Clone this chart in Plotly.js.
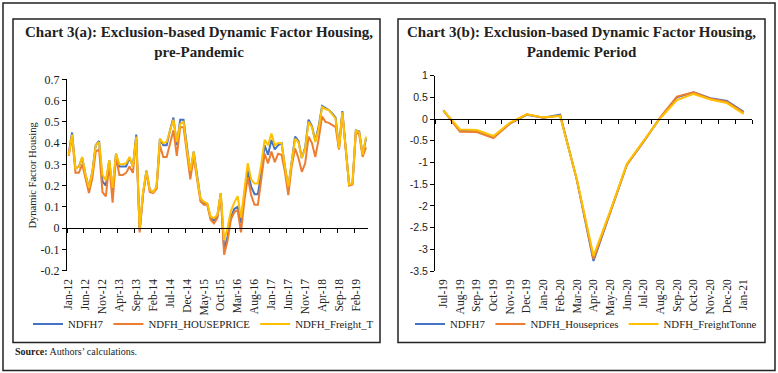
<!DOCTYPE html>
<html>
<head>
<meta charset="utf-8">
<script src="https://cdn.plot.ly/plotly-3.0.1.min.js"></script>
<style>html,body{margin:0;padding:0;background:#fff;}#chart{width:778px;height:373px;}</style>
</head>
<body>
<div id="chart"></div>
<script>
// ---------- DATA ----------
const monthsA = [
 'Jan-12','Feb-12','Mar-12','Apr-12','May-12','Jun-12','Jul-12','Aug-12','Sep-12','Oct-12','Nov-12','Dec-12',
 'Jan-13','Feb-13','Mar-13','Apr-13','May-13','Jun-13','Jul-13','Aug-13','Sep-13','Oct-13','Nov-13','Dec-13',
 'Jan-14','Feb-14','Mar-14','Apr-14','May-14','Jun-14','Jul-14','Aug-14','Sep-14','Oct-14','Nov-14','Dec-14',
 'Jan-15','Feb-15','Mar-15','Apr-15','May-15','Jun-15','Jul-15','Aug-15','Sep-15','Oct-15','Nov-15','Dec-15',
 'Jan-16','Feb-16','Mar-16','Apr-16','May-16','Jun-16','Jul-16','Aug-16','Sep-16','Oct-16','Nov-16','Dec-16',
 'Jan-17','Feb-17','Mar-17','Apr-17','May-17','Jun-17','Jul-17','Aug-17','Sep-17','Oct-17','Nov-17','Dec-17',
 'Jan-18','Feb-18','Mar-18','Apr-18','May-18','Jun-18','Jul-18','Aug-18','Sep-18','Oct-18','Nov-18','Dec-18',
 'Jan-19','Feb-19','Mar-19','Apr-19','May-19'
];
const tickLabelsA = ['Jan-12','Jun-12','Nov-12','Apr-13','Sep-13','Feb-14','Jul-14','Dec-14','May-15','Oct-15',
 'Mar-16','Aug-16','Jan-17','Jun-17','Nov-17','Apr-18','Sep-18','Feb-19'];

const ndfh7A = [
 0.35,0.45,0.28,0.29,0.33,0.25,0.19,0.265,0.39,0.41,
 0.22,0.20,0.32,0.18,0.35,0.29,0.29,0.29,0.33,0.29,
 0.44,-0.01,0.16,0.27,0.18,0.17,0.19,0.42,0.39,0.39,
 0.46,0.52,0.39,0.51,0.51,0.37,0.26,0.36,0.24,0.14,
 0.12,0.115,0.05,0.035,0.055,0.165,-0.10,-0.04,0.05,0.09,
 0.10,0.025,0.16,0.27,0.195,0.16,0.16,0.26,0.39,0.345,
 0.415,0.37,0.39,0.40,0.29,0.19,0.31,0.43,0.41,0.33,
 0.38,0.51,0.48,0.41,0.48,0.575,0.565,0.555,0.54,0.52,
 0.375,0.55,0.375,0.205,0.21,0.46,0.455,0.345,0.42
];
const housePriceA = [
 0.34,0.43,0.26,0.26,0.30,0.23,0.165,0.235,0.36,0.37,
 0.17,0.15,0.30,0.12,0.335,0.25,0.25,0.26,0.29,0.26,
 0.42,-0.02,0.16,0.26,0.17,0.165,0.185,0.39,0.335,0.335,
 0.405,0.46,0.34,0.475,0.475,0.34,0.23,0.335,0.22,0.125,
 0.11,0.11,0.04,0.023,0.047,0.16,-0.125,-0.06,0.04,0.075,
 0.085,-0.02,0.13,0.24,0.155,0.11,0.11,0.22,0.35,0.305,
 0.36,0.31,0.35,0.345,0.265,0.155,0.29,0.375,0.33,0.265,
 0.305,0.43,0.40,0.335,0.42,0.525,0.50,0.495,0.485,0.475,
 0.37,0.54,0.37,0.20,0.205,0.455,0.44,0.335,0.38
];
const freightA = [
 0.345,0.44,0.28,0.29,0.335,0.25,0.19,0.265,0.39,0.405,
 0.25,0.225,0.32,0.19,0.35,0.30,0.30,0.305,0.335,0.29,
 0.43,0.0,0.17,0.27,0.18,0.17,0.195,0.42,0.40,0.405,
 0.46,0.51,0.405,0.49,0.50,0.37,0.27,0.36,0.24,0.14,
 0.125,0.117,0.055,0.047,0.063,0.165,-0.055,0.0,0.08,0.12,
 0.15,0.05,0.18,0.305,0.23,0.21,0.21,0.30,0.415,0.39,
 0.445,0.39,0.40,0.40,0.29,0.195,0.31,0.42,0.405,0.33,
 0.375,0.50,0.475,0.405,0.47,0.57,0.56,0.555,0.535,0.515,
 0.375,0.545,0.375,0.205,0.21,0.46,0.45,0.345,0.43
];

const monthsB = ['Jul-19','Aug-19','Sep-19','Oct-19','Nov-19','Dec-19','Jan-20','Feb-20','Mar-20','Apr-20',
 'May-20','Jun-20','Jul-20','Aug-20','Sep-20','Oct-20','Nov-20','Dec-20','Jan-21'];
const ndfh7B = [0.2,-0.27,-0.28,-0.42,-0.1,0.1,0.03,0.1,-1.4,-3.27,-2.15,-1.05,-0.52,0.03,0.5,0.62,0.48,0.42,0.17];
const housePricesB = [0.2,-0.29,-0.3,-0.44,-0.1,0.11,0.03,0.08,-1.4,-3.22,-2.15,-1.05,-0.52,0.04,0.52,0.62,0.47,0.4,0.15];
const freightTonneB = [0.2,-0.24,-0.25,-0.39,-0.08,0.11,0.04,0.07,-1.38,-3.15,-2.12,-1.03,-0.5,0.02,0.44,0.58,0.45,0.37,0.12];

const yTicksA = [-0.2,-0.1,0,0.1,0.2,0.3,0.4,0.5,0.6,0.7];
const yTickTextA = ['-0.2','-0.1','0','0.1','0.2','0.3','0.4','0.5','0.6','0.7'];
const yTicksB = [-3.5,-3,-2.5,-2,-1.5,-1,-0.5,0,0.5,1];
const yTickTextB = ['-3.5','-3','-2.5','-2','-1.5','-1','-0.5','0','0.5','1'];

// ---------- LAYOUT HELPERS ----------
const W = 778, H = 373;
const px = x => x / W;
const py = y => 1 - y / H;
const BLUE = '#4472C4', ORANGE = '#ED7D31', YELLOW = '#FFC000';
const SERIF = 'Liberation Serif, Times New Roman, serif';
const SANS = 'Liberation Sans, Arial, sans-serif';

const xdA = [px(67), px(367.7)], ydA = [py(270.7), py(79.3)];
const xdB = [px(435), px(752)], ydB = [py(271), py(75.7)];
const yRangeA = [-0.2, 0.7], yRangeB = [-3.5, 1];
const zeroA = ydA[0] + (0 - yRangeA[0]) / (yRangeA[1] - yRangeA[0]) * (ydA[1] - ydA[0]);
const zeroB = ydB[0] + (0 - yRangeB[0]) / (yRangeB[1] - yRangeB[0]) * (ydB[1] - ydB[0]);

function line(x, y, name, color, xa, ya, leg) {
  return {type: 'scatter', mode: 'lines', x: x, y: y, name: name, xaxis: xa, yaxis: ya, legend: leg,
          line: {color: color, width: 2}, hoverinfo: 'skip'};
}

const data = [
  line(monthsA, ndfh7A, 'NDFH7', BLUE, 'x', 'y', 'legend'),
  line(monthsA, housePriceA, 'NDFH_HOUSEPRICE', ORANGE, 'x', 'y', 'legend'),
  line(monthsA, freightA, 'NDFH_Freight_T', YELLOW, 'x', 'y', 'legend'),
  line(monthsB, ndfh7B, 'NDFH7', BLUE, 'x2', 'y2', 'legend2'),
  line(monthsB, housePricesB, 'NDFH_Houseprices', ORANGE, 'x2', 'y2', 'legend2'),
  line(monthsB, freightTonneB, 'NDFH_FreightTonne', YELLOW, 'x2', 'y2', 'legend2'),
  {type: 'scatter', x: [], y: [], xaxis: 'x3', yaxis: 'y', showlegend: false, hoverinfo: 'skip'},
  {type: 'scatter', x: [], y: [], xaxis: 'x4', yaxis: 'y2', showlegend: false, hoverinfo: 'skip'}
];

const xCat = (dom, ya, n, tv) => ({
  domain: dom, anchor: ya, type: 'category', range: [-0.5, n - 0.5],
  showline: false, showgrid: false, zeroline: false, ticks: '',
  tickmode: 'array', tickvals: tv, ticktext: tv, tickangle: -90,
  tickfont: {family: SERIF, size: 11.5, color: '#222'}, ticklabelstandoff: 5
});
const xZero = (dom, over, pos, n, dt) => ({
  domain: dom, overlaying: over, anchor: 'free', position: pos, type: 'linear',
  range: [-0.5, n - 0.5], tick0: -0.5, dtick: dt, ticks: 'outside', ticklen: 4, tickwidth: 1,
  tickcolor: '#000', showticklabels: false, showline: true, linecolor: '#000', linewidth: 1,
  showgrid: false, zeroline: false, fixedrange: true
});
const yAx = (dom, xa, rng, tv, tt, fam, sz) => ({
  domain: dom, anchor: xa, range: rng, tickmode: 'array', tickvals: tv, ticktext: tt,
  showline: true, linecolor: '#000', linewidth: 1, ticks: 'outside', ticklen: 4, tickcolor: '#000',
  showgrid: false, zeroline: false, tickfont: {family: fam, size: sz, color: '#222'}
});

const rect = (x0, y0, x1, y1, w) => ({type: 'rect', xref: 'paper', yref: 'paper',
  x0: px(x0), y0: py(y0), x1: px(x1), y1: py(y1), line: {color: '#222', width: w}, fillcolor: 'rgba(0,0,0,0)'});

const layout = {
  width: W, height: H, margin: {l: 0, r: 0, t: 0, b: 0},
  paper_bgcolor: '#fff', plot_bgcolor: 'rgba(0,0,0,0)',
  xaxis: xCat(xdA, 'y', monthsA.length, tickLabelsA),
  yaxis: yAx(ydA, 'x', yRangeA, yTicksA, yTickTextA, SERIF, 12),
  xaxis2: xCat(xdB, 'y2', monthsB.length, monthsB),
  yaxis2: yAx(ydB, 'x2', yRangeB, yTicksB, yTickTextB, SANS, 10.5),
  xaxis3: xZero(xdA, 'x', zeroA, monthsA.length, 5),
  xaxis4: xZero(xdB, 'x2', zeroB, monthsB.length, 1),
  legend: {orientation: 'h', x: px(28), y: py(324), xanchor: 'left', yanchor: 'middle',
           font: {family: SERIF, size: 10.8, color: '#222'}, bgcolor: 'rgba(0,0,0,0)', borderwidth: 0},
  legend2: {orientation: 'h', x: px(410), y: py(324), xanchor: 'left', yanchor: 'middle',
           font: {family: SERIF, size: 10.8, color: '#222'}, bgcolor: 'rgba(0,0,0,0)', borderwidth: 0},
  shapes: [
    rect(3, 3, 775, 370.5, 1.5),
    rect(13, 19, 380, 342.5, 1.5),
    rect(398, 19, 765, 342.5, 1.5)
  ],
  annotations: [
    {xref: 'paper', yref: 'paper', x: px(199), y: py(42.5), xanchor: 'center', yanchor: 'middle', showarrow: false,
     text: '<b>Chart 3(a): Exclusion-based Dynamic Factor Housing,</b><br><b>pre-Pandemic</b>',
     font: {family: SERIF, size: 15, color: '#222'}},
    {xref: 'paper', yref: 'paper', x: px(581.5), y: py(42.5), xanchor: 'center', yanchor: 'middle', showarrow: false,
     text: '<b>Chart 3(b): Exclusion-based Dynamic Factor Housing,</b><br><b>Pandemic Period</b>',
     font: {family: SERIF, size: 15, color: '#222'}},
    {xref: 'paper', yref: 'paper', x: px(32), y: py(174.5), xanchor: 'center', yanchor: 'middle', showarrow: false,
     textangle: -90, text: 'Dynamic Factor Housing', font: {family: SERIF, size: 10.5, color: '#222'}},
    {xref: 'paper', yref: 'paper', x: px(13), y: py(351), xanchor: 'left', yanchor: 'middle', showarrow: false,
     text: '<b>Source:</b> Authors\u2019 calculations.', font: {family: SERIF, size: 10, color: '#222'}}
  ]
};

Plotly.newPlot('chart', data, layout, {displayModeBar: false, staticPlot: true});
</script>
</body>
</html>
